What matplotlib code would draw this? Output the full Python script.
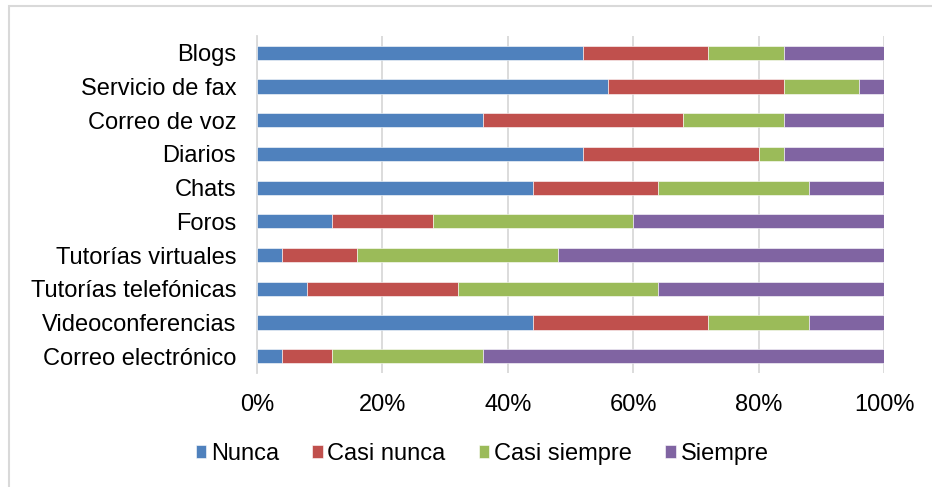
import numpy as np
import matplotlib.pyplot as plt
from matplotlib.patches import Rectangle

plt.rcParams['font.family'] = ['Liberation Sans', 'DejaVu Sans']

categories = ["Blogs", "Servicio de fax", "Correo de voz", "Diarios", "Chats",
              "Foros", "Tutorías virtuales", "Tutorías telefónicas",
              "Videoconferencias", "Correo electrónico"]
nunca = [52, 56, 36, 52, 44, 12, 4, 8, 44, 4]
casi_nunca = [20, 28, 32, 28, 20, 16, 12, 24, 28, 8]
casi_siempre = [12, 12, 16, 4, 24, 32, 32, 32, 16, 24]
siempre = [16, 4, 16, 16, 12, 40, 52, 36, 12, 64]

series = [("Nunca", nunca, "#4F81BD"),
          ("Casi nunca", casi_nunca, "#C0504D"),
          ("Casi siempre", casi_siempre, "#9BBB59"),
          ("Siempre", siempre, "#8064A2")]

fig = plt.figure(figsize=(9.32, 4.87), dpi=100)
ax = fig.add_axes([257/932, 1-373/487, 627/932, 337/487])

# border around the chart area
fig.patches.append(Rectangle((9/932, -0.05), 1.1, 1.05 - 6/487,
                             transform=fig.transFigure, fill=False,
                             edgecolor="#D9D9D9", linewidth=1.5))

y = np.arange(len(categories))
left = np.zeros(len(categories))
for name, vals, color in series:
    vals = np.array(vals, dtype=float)
    ax.barh(y, vals, left=left, height=0.42, color=color, label=name,
            edgecolor="white", linewidth=0.4, zorder=3)
    left += vals

ax.set_xlim(0, 100)
ax.set_ylim(len(categories) - 0.5, -0.5)
ax.set_yticks(y)
ax.set_yticklabels(categories)
ax.set_xticks(np.arange(0, 101, 20))
ax.set_xticklabels([f"{v}%" for v in range(0, 101, 20)])
ax.tick_params(axis="both", length=0, labelsize=17, colors="black")
ax.tick_params(axis="x", pad=15)
ax.tick_params(axis="y", pad=15)

ax.grid(axis="x", color="#D9D9D9", linewidth=1.3, zorder=0)
ax.set_axisbelow(True)
for s in ["top", "right", "bottom"]:
    ax.spines[s].set_visible(False)
ax.spines["left"].set_color("#D9D9D9")
ax.spines["left"].set_linewidth(1.3)

fig.legend(loc="center", bbox_to_anchor=(482/932, 1-454/487), ncol=4,
           frameon=False, fontsize=17, handlelength=0.45, handleheight=0.45,
           handletextpad=0.2, columnspacing=1.4)

fig.savefig("out.png", dpi=100)
